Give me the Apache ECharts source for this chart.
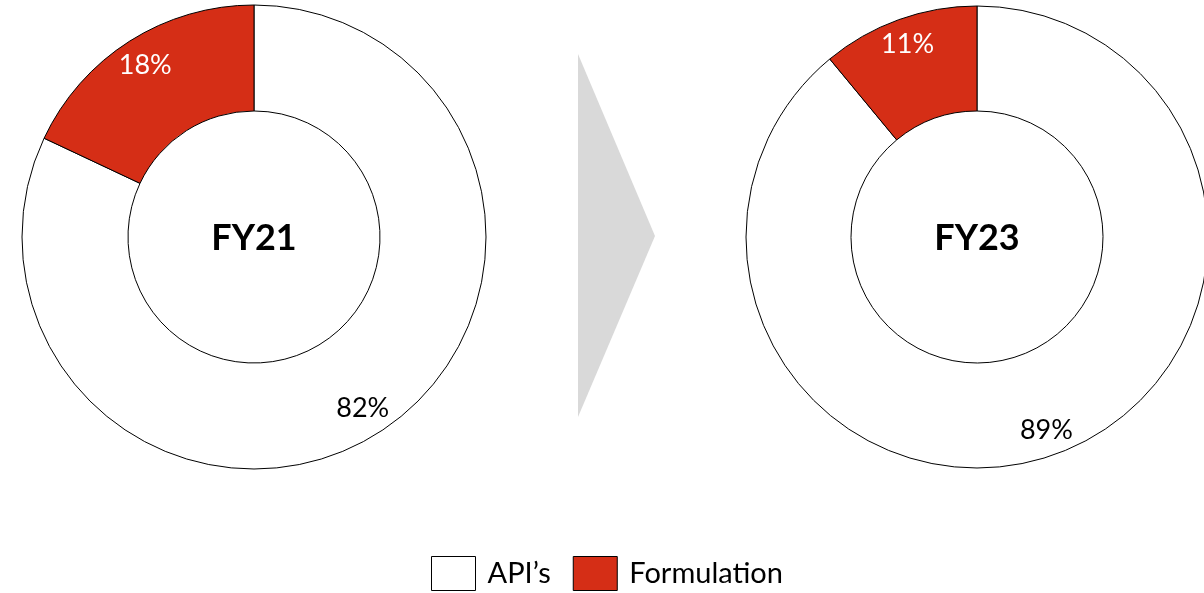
<!DOCTYPE html>
<html>
<head>
<meta charset="utf-8">
<script src="https://cdn.jsdelivr.net/npm/echarts@6/dist/echarts.min.js"></script>
<style>
html,body{margin:0;padding:0;background:#fff;}
#c{width:1204px;height:593px;}
</style>
</head>
<body>
<div id="c"></div>
<script>
var categories = ["API\u2019s", "Formulation"];
var years = ["FY21", "FY23"];
var fy21Values = [82, 18];
var fy23Values = [89, 11];
var colors = ["#FFFFFF", "#D52E16"];
var labelColors = ["#000000", "#FFFFFF"];

var chart = echarts.init(document.getElementById('c'), null, {renderer: 'canvas'});
var font = 'Lato, "Open Sans", sans-serif';

function ringData(vals) {
  return categories.map(function (n, i) {
    return {name: n, value: vals[i], itemStyle: {color: colors[i]}};
  });
}
function labelData(vals) {
  return categories.map(function (n, i) {
    return {name: n, value: vals[i], label: {color: labelColors[i]}};
  });
}

var donuts = [
  {vals: fy21Values, center: [254, 237], r: 232, r0: 126, lr0: 168},
  {vals: fy23Values, center: [977, 237], r: 231, r0: 126, lr0: 173}
];

var series = [];
donuts.forEach(function (d) {
  series.push({
    type: 'pie',
    center: d.center,
    radius: [d.r0, d.r],
    startAngle: 90,
    clockwise: true,
    silent: true,
    label: {show: false},
    labelLine: {show: false},
    itemStyle: {borderColor: '#000', borderWidth: 1},
    emphasis: {disabled: true},
    data: ringData(d.vals)
  });
  series.push({
    type: 'pie',
    center: d.center,
    radius: [d.lr0, d.r],
    startAngle: 90,
    clockwise: true,
    silent: true,
    legendHoverLink: false,
    itemStyle: {color: 'rgba(0,0,0,0)', borderWidth: 0},
    label: {
      show: true, position: 'inside',
      formatter: '{c}%',
      fontFamily: font, fontSize: 27
    },
    labelLine: {show: false},
    emphasis: {disabled: true},
    data: labelData(d.vals)
  });
});

var option = {
  animation: false,
  backgroundColor: '#fff',
  title: years.map(function (y, i) {
    return {
      text: y,
      left: donuts[i].center[0],
      top: 220,
      padding: 0,
      textAlign: 'center',
      textStyle: {fontFamily: font, fontSize: 36, fontWeight: 'bold', color: '#000'}
    };
  }),
  legend: {
    left: 431, top: 556,
    padding: 0,
    itemWidth: 44, itemHeight: 34,
    itemGap: 22,
    icon: 'rect',
    selectedMode: false,
    textStyle: {fontFamily: font, fontSize: 29, color: '#000', padding: [4, 0, 0, 7]},
    data: categories.map(function (n, i) {
      return {name: n, itemStyle: {color: colors[i], borderColor: '#000', borderWidth: 1}};
    })
  },
  graphic: [{
    type: 'polygon',
    shape: {points: [[578, 54], [655, 236], [578, 417]]},
    style: {fill: '#D9D9D9'},
    silent: true
  }],
  series: series
};
chart.setOption(option);
</script>
</body>
</html>
